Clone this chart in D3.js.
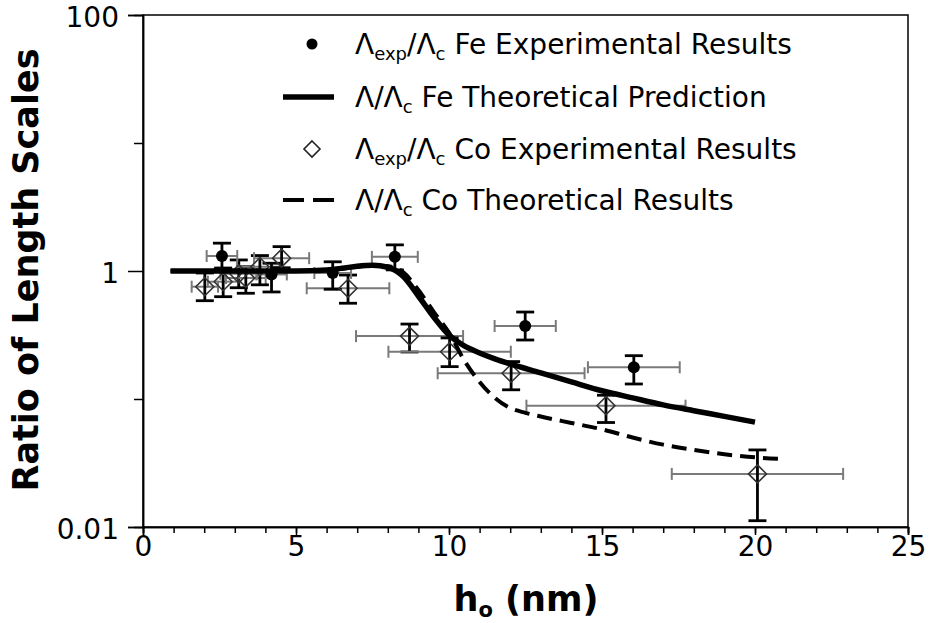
<!DOCTYPE html>
<html><head><meta charset="utf-8">
<script src="https://cdn.jsdelivr.net/npm/d3@7"></script>
<style>
html,body{margin:0;padding:0;background:#fff;}
text{font-family:"DejaVu Sans",sans-serif;fill:#000;}
</style></head>
<body><svg id="c" width="931" height="623"></svg>
<script>
// ---- data ----
const xTicks = [0, 5, 10, 15, 20, 25];
const yTicks = [0.01, 1, 100];
const yMinorTicks = [0.1, 10];
const yTickLabels = ["0.01", "1", "100"];

// Fe experimental: h0, ratio, xErr, yLow, yHigh
const feX    = [2.58, 4.20, 6.20, 8.23, 12.49, 16.04];
const feY    = [1.31, 0.94, 0.965, 1.29, 0.372, 0.177];
const feXErr = [0.5, 0.5, 0.6, 0.75, 1.0, 1.5];
const feYLo  = [1.02, 0.686, 0.72, 1.02, 0.289, 0.131];
const feYHi  = [1.65, 1.15, 1.18, 1.60, 0.478, 0.218];

// Co experimental
const coX    = [2.02, 2.62, 3.13, 3.36, 3.82, 4.53, 6.70, 8.71, 10.02, 12.03, 15.13, 20.08];
const coY    = [0.754, 0.825, 0.95, 0.88, 1.08, 1.26, 0.733, 0.31, 0.234, 0.159, 0.0887, 0.026];
const coXErr = [0.43, 0.5, 0.6, 0.65, 0.75, 0.9, 1.35, 1.75, 2.0, 2.4, 2.6, 2.8];
const coYLo  = [0.586, 0.63, 0.74, 0.67, 0.78, 1.06, 0.56, 0.233, 0.179, 0.118, 0.0655, 0.0112];
const coYHi  = [0.965, 1.055, 1.22, 1.08, 1.32, 1.55, 0.93, 0.385, 0.30, 0.196, 0.107, 0.040];

// Fe theoretical prediction
const feThX = [0.9, 2, 3, 4, 5, 6, 6.5, 7, 7.5, 8, 8.5, 9, 9.5, 10, 10.5, 11, 11.5, 12, 13, 14, 15, 16, 17, 18, 19, 20];
const feThY = [1.0, 1.0, 1.0, 1.0, 1.0, 1.02, 1.05, 1.09, 1.11, 1.07, 0.91, 0.638, 0.437, 0.316, 0.26, 0.229, 0.206, 0.188, 0.16, 0.136, 0.116, 0.102, 0.09, 0.081, 0.0732, 0.066];

// Co theoretical results
const coThX = [0.9, 2, 3, 4, 5, 6, 6.5, 7, 7.5, 8, 8.5, 9, 9.5, 10, 10.5, 11, 11.5, 12, 12.5, 13, 14, 15, 16, 17, 18, 19, 20, 21];
const coThY = [1.0, 1.0, 1.0, 1.0, 1.0, 1.01, 1.04, 1.08, 1.10, 1.09, 0.98, 0.71, 0.48, 0.33, 0.2, 0.136, 0.102, 0.085, 0.078, 0.073, 0.065, 0.058, 0.050, 0.044, 0.040, 0.037, 0.035, 0.034];

// ---- drawing ----
const svg = d3.select("#c");
const x = d3.scaleLinear().domain([0, 25]).range([143, 908]);
const y = d3.scaleLog().domain([0.01, 100]).range([527, 15]);

// frame
svg.append("rect").attr("x", 143).attr("y", 15).attr("width", 908 - 143).attr("height", 527 - 15)
  .attr("fill", "none").attr("stroke", "#000").attr("stroke-width", 1.5);

// axes
const ax = svg.append("g").attr("transform", "translate(0,527)")
  .call(d3.axisBottom(x).tickValues(xTicks).tickSize(8).tickPadding(1).tickFormat(d3.format("d")));
const axm = svg.append("g").attr("transform", "translate(0,527)")
  .call(d3.axisBottom(x).tickValues(d3.range(0, 26)).tickSize(6).tickFormat(""));
const ay = svg.append("g").attr("transform", "translate(143,0)")
  .call(d3.axisLeft(y).tickValues(yTicks).tickSize(15).tickPadding(9).tickFormat((d, i) => yTickLabels[i]));
const aym = svg.append("g").attr("transform", "translate(143,0)")
  .call(d3.axisLeft(y).tickValues(yMinorTicks).tickSize(9).tickFormat(""));
[ax, axm, ay, aym].forEach(g => {
  g.selectAll(".domain").attr("stroke", "#000").attr("stroke-width", 1.5);
  g.selectAll(".tick line").attr("stroke", "#000").attr("stroke-width", 1.5);
  g.selectAll(".tick text").attr("font-size", 28).attr("font-family", "DejaVu Sans").attr("fill", "#000");
});
ay.selectAll(".tick text").attr("dy", "0.4em");

// axis titles
svg.append("text").attr("x", 526).attr("y", 611).attr("text-anchor", "middle")
  .attr("font-size", 35).attr("font-weight", "bold")
  .html('h<tspan font-size="21" dy="6">o</tspan><tspan dy="-6"> (nm)</tspan>');
svg.append("text").attr("transform", "translate(38,270) rotate(-90)").attr("text-anchor", "middle")
  .attr("font-size", 35).attr("font-weight", "bold").text("Ratio of Length Scales");

// error bars
const gErr = svg.append("g");
function errBars(xs, ys, xe, ylo, yhi) {
  xs.forEach((xv, i) => {
    const cx = x(xv), cy = y(ys[i]);
    const x1 = x(xv - xe[i]), x2 = x(xv + xe[i]);
    gErr.append("line").attr("x1", x1).attr("x2", x2).attr("y1", cy).attr("y2", cy)
      .attr("stroke", "#7a7a7a").attr("stroke-width", 2);
    [x1, x2].forEach(xx => gErr.append("line").attr("x1", xx).attr("x2", xx).attr("y1", cy - 6).attr("y2", cy + 6)
      .attr("stroke", "#7a7a7a").attr("stroke-width", 2));
    const y1 = y(ylo[i]), y2 = y(yhi[i]);
    gErr.append("line").attr("x1", cx).attr("x2", cx).attr("y1", y1).attr("y2", y2)
      .attr("stroke", "#000").attr("stroke-width", 2.8);
    [y1, y2].forEach(yy => gErr.append("line").attr("x1", cx - 9).attr("x2", cx + 9).attr("y1", yy).attr("y2", yy)
      .attr("stroke", "#000").attr("stroke-width", 2.8));
  });
}
errBars(coX, coY, coXErr, coYLo, coYHi);
errBars(feX, feY, feXErr, feYLo, feYHi);

// markers
const diamond = (cx, cy, r) => `M${cx},${cy - r}L${cx + r},${cy}L${cx},${cy + r}L${cx - r},${cy}Z`;
svg.append("g").selectAll("path").data(coX).join("path")
  .attr("d", (d, i) => diamond(x(d), y(coY[i]), 9))
  .attr("fill", "none").attr("stroke", "#333").attr("stroke-width", 1.6);
svg.append("g").selectAll("circle").data(feX).join("circle")
  .attr("cx", d => x(d)).attr("cy", (d, i) => y(feY[i])).attr("r", 6).attr("fill", "#000");

// theory curves
const line = d3.line().curve(d3.curveMonotoneX);
svg.append("path").attr("d", line(coThX.map((d, i) => [x(d), y(coThY[i])])))
  .attr("fill", "none").attr("stroke", "#000").attr("stroke-width", 4).attr("stroke-dasharray", "15,8");
svg.append("path").attr("d", line(feThX.map((d, i) => [x(d), y(feThY[i])])))
  .attr("fill", "none").attr("stroke", "#000").attr("stroke-width", 5.5);

// legend
const lg = svg.append("g");
const rows = [44, 97, 149, 200];
lg.append("circle").attr("cx", 312).attr("cy", rows[0]).attr("r", 5.5).attr("fill", "#000");
lg.append("line").attr("x1", 283).attr("x2", 334).attr("y1", rows[1]).attr("y2", rows[1])
  .attr("stroke", "#000").attr("stroke-width", 5.5);
lg.append("path").attr("d", diamond(312, rows[2], 8)).attr("fill", "none").attr("stroke", "#222").attr("stroke-width", 1.6);
lg.append("line").attr("x1", 283).attr("x2", 334).attr("y1", rows[3]).attr("y2", rows[3])
  .attr("stroke", "#000").attr("stroke-width", 4).attr("stroke-dasharray", "21,9");
const labels = [
  'Λ<tspan font-size="18" dy="6">exp</tspan><tspan dy="-6">/Λ</tspan><tspan font-size="18" dy="6">c</tspan><tspan dy="-6"> Fe Experimental Results</tspan>',
  'Λ/Λ<tspan font-size="18" dy="6">c</tspan><tspan dy="-6"> Fe Theoretical Prediction</tspan>',
  'Λ<tspan font-size="18" dy="6">exp</tspan><tspan dy="-6">/Λ</tspan><tspan font-size="18" dy="6">c</tspan><tspan dy="-6"> Co Experimental Results</tspan>',
  'Λ/Λ<tspan font-size="18" dy="6">c</tspan><tspan dy="-6"> Co Theoretical Results</tspan>'
];
labels.forEach((h, i) => lg.append("text").attr("x", 355).attr("y", rows[i] + 10).attr("font-size", 28).html(h));
</script>
</body></html>
